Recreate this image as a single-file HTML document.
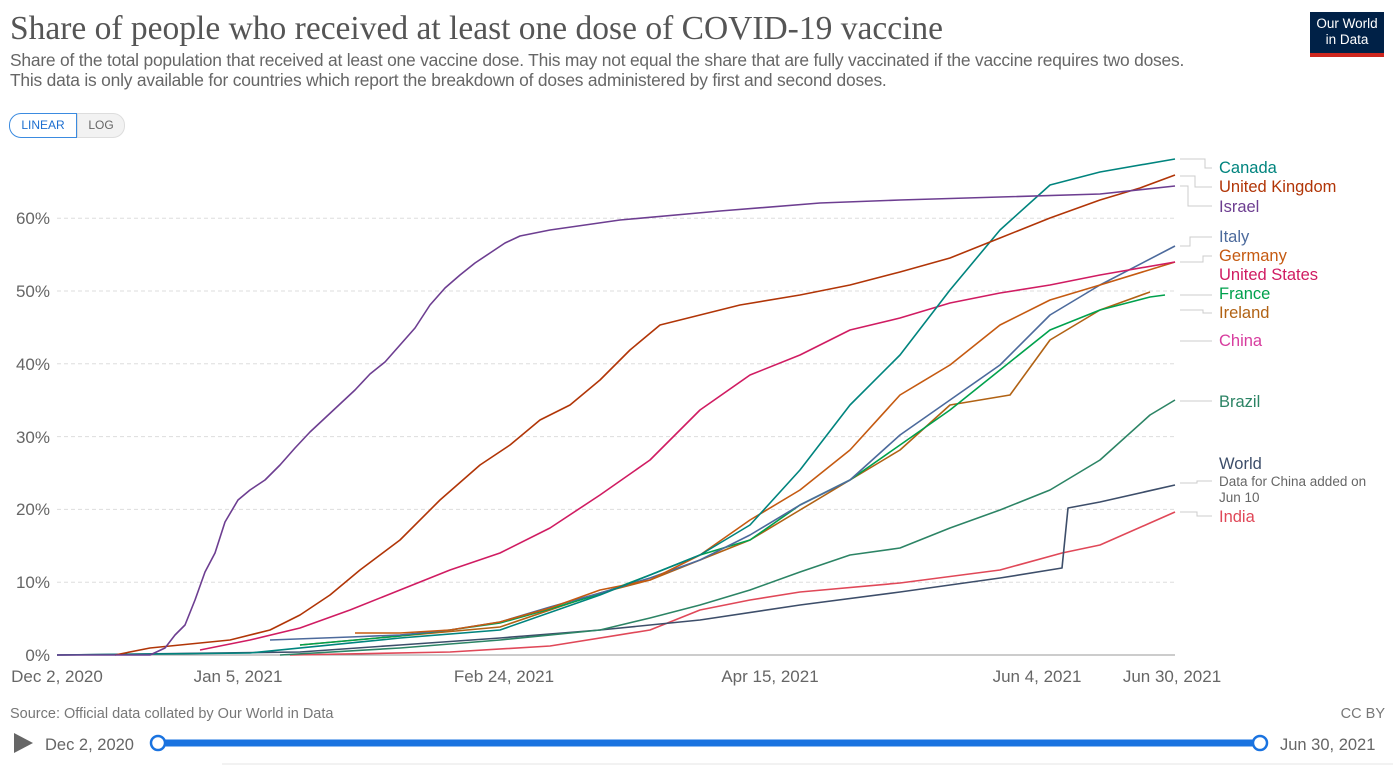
<!DOCTYPE html>
<html><head><meta charset="utf-8"><style>
body{margin:0;width:1393px;height:769px;background:#fff;font-family:"Liberation Sans",sans-serif;overflow:hidden;position:relative}
.t{position:absolute;white-space:nowrap}
</style></head><body>
<div class="t" style="left:10px;top:10px;font-family:'Liberation Serif',serif;font-size:33.5px;color:#555">Share of people who received at least one dose of COVID-19 vaccine</div>
<div class="t" style="left:10px;top:50px;font-size:17.4px;color:#666;line-height:20px;letter-spacing:-0.2px">Share of the total population that received at least one vaccine dose. This may not equal the share that are fully vaccinated if the vaccine requires two doses.<br>This data is only available for countries which report the breakdown of doses administered by first and second doses.</div>
<div class="t" style="left:1310px;top:12px;width:74px;height:45px;background:#002147;color:#fff;font-size:13.5px;text-align:center;line-height:16px;padding-top:4px;box-sizing:border-box;border-bottom:4px solid #ce261e">Our World<br>in Data</div>
<div class="t" style="left:9px;top:113px;width:66px;height:23px;border:1px solid #3b8be0;border-radius:12px 0 0 12px;color:#1d6fd0;font-size:12px;line-height:23px;text-align:center;background:#fff">LINEAR</div>
<div class="t" style="left:77px;top:113px;width:46px;height:23px;border:1px solid #ddd;border-radius:0 12px 12px 0;color:#666;font-size:12px;line-height:23px;text-align:center;background:#f2f2f2">LOG</div>
<svg width="1393" height="769" style="position:absolute;left:0;top:0">
<g stroke="#ddd" stroke-dasharray="4,3" stroke-width="1">
<line x1="57" x2="1175" y1="218.2" y2="218.2"/><line x1="57" x2="1175" y1="291" y2="291"/><line x1="57" x2="1175" y1="363.8" y2="363.8"/><line x1="57" x2="1175" y1="436.6" y2="436.6"/><line x1="57" x2="1175" y1="509.4" y2="509.4"/><line x1="57" x2="1175" y1="582.2" y2="582.2"/>
</g>
<line x1="57" x2="1175" y1="655" y2="655" stroke="#999"/>
<g font-size="17" fill="#666" text-anchor="end">
<text x="50" y="224">60%</text><text x="50" y="297">50%</text><text x="50" y="370">40%</text><text x="50" y="443">30%</text><text x="50" y="515">20%</text><text x="50" y="588">10%</text><text x="50" y="661">0%</text>
</g>
<g font-size="17" fill="#666" text-anchor="middle">
<text x="57" y="682">Dec 2, 2020</text><text x="238" y="682">Jan 5, 2021</text><text x="504" y="682">Feb 24, 2021</text><text x="770" y="682">Apr 15, 2021</text><text x="1037" y="682">Jun 4, 2021</text><text x="1172" y="682">Jun 30, 2021</text>
</g>
<g fill="none" stroke-width="1.6" stroke-linejoin="round">
<polyline stroke="#e04858" points="290,655 450,652 550,646 650,630 700,610 750,600 800,592 900,583 1000,570 1062,553 1100,545 1150,523 1175,512"/>
<polyline stroke="#3d4e6a" points="57,655 300,652 400,645 500,638 600,630 700,620 800,605 900,592 1000,578 1062,568 1068,508 1100,502 1175,485"/>
<polyline stroke="#2c8465" points="280,655 400,648 500,640 600,630 650,618 700,605 750,590 800,572 850,555 900,548 950,528 1000,510 1050,490 1100,460 1150,415 1175,400"/>
<polyline stroke="#b16214" points="300,645 400,636 500,627 550,610 600,593 650,580 700,560 750,540 800,510 850,480 900,450 950,405 1010,395 1050,340 1100,310 1150,292"/>
<polyline stroke="#00a14d" points="300,645 400,636 450,630 500,623 550,609 600,594 650,575 700,555 750,540 800,505 850,480 900,445 950,410 1000,370 1050,330 1100,310 1150,297 1165,295"/>
<polyline stroke="#4c6a9c" points="270,640 350,637 400,635 450,630 500,622 550,607 600,593 650,578 700,560 750,535 800,505 850,480 900,435 950,400 1000,365 1050,315 1100,285 1175,246"/>
<polyline stroke="#c55a11" points="355,633 400,633 450,630 500,622 550,608 600,590 650,580 700,555 750,520 800,490 850,450 900,395 950,365 1000,325 1050,300 1100,285 1175,262"/>
<polyline stroke="#d01c62" points="200,650 250,640 300,628 350,610 400,590 450,570 500,553 550,528 600,495 650,460 700,410 750,375 800,355 850,330 900,318 950,303 1000,293 1050,285 1100,275 1175,262"/>
<polyline stroke="#00847e" points="57,655 250,653 400,638 500,630 600,595 650,575 700,555 750,525 800,470 850,405 900,355 950,290 1000,230 1050,185 1100,172 1175,159"/>
<polyline stroke="#b13507" points="115,655 150,648 230,640 270,630 300,615 330,595 360,570 400,540 440,500 480,465 510,445 540,420 570,405 600,380 630,350 660,325 700,315 740,305 800,295 850,285 900,272 950,258 1000,238 1050,218 1100,200 1140,188 1175,175"/>
<polyline stroke="#6d3e91" points="57,655 150,655 165,648 175,635 185,625 195,600 205,572 215,553 225,522 238,500 250,490 265,480 280,465 295,448 310,432 325,418 340,404 355,390 370,374 385,362 400,345 415,328 430,305 445,288 460,275 475,263 490,253 505,243 520,236 550,230 620,220 720,211 820,203 900,200 1000,197 1100,194 1175,186"/>
</g>
<g fill="none" stroke="#ccc" stroke-width="1">
<polyline points="1180,159 1205,159 1205,168 1212,168"/>
<polyline points="1180,176 1195,176 1195,187 1212,187"/>
<polyline points="1180,186 1188,186 1188,206 1212,206"/>
<polyline points="1180,246 1190,246 1190,237 1212,237"/>
<polyline points="1180,262 1203,262 1203,256 1212,256 M1203,262 1203,275 1212,275"/>
<polyline points="1180,295 1212,295"/>
<polyline points="1180,310 1203,310 1203,313 1212,313"/>
<polyline points="1180,341 1212,341"/>
<polyline points="1180,401 1212,401"/>
<polyline points="1180,483 1197,483 1197,481 1212,481"/>
<polyline points="1180,512 1197,512 1197,516 1212,516"/>
</g>
<g font-size="16.5">
<text x="1219" y="173" fill="#00847e">Canada</text>
<text x="1219" y="192" fill="#b13507">United Kingdom</text>
<text x="1219" y="212" fill="#6d3e91">Israel</text>
<text x="1219" y="242" fill="#4c6a9c">Italy</text>
<text x="1219" y="261" fill="#c55a11">Germany</text>
<text x="1219" y="280" fill="#d01c62">United States</text>
<text x="1219" y="299" fill="#00a14d">France</text>
<text x="1219" y="318" fill="#b16214">Ireland</text>
<text x="1219" y="346" fill="#d73c9e">China</text>
<text x="1219" y="407" fill="#2c8465">Brazil</text>
<text x="1219" y="469" fill="#3d4e6a">World</text>
<text x="1219" y="486" fill="#666" font-size="13.5">Data for China added on</text>
<text x="1219" y="502" fill="#666" font-size="13.5">Jun 10</text>
<text x="1219" y="522" fill="#e04858">India</text>
</g>
<text x="10" y="718" font-size="14.5" fill="#777">Source: Official data collated by Our World in Data</text>
<text x="1385" y="718" font-size="14.5" fill="#777" text-anchor="end">CC BY</text>
<polygon points="14,733 14,753 33,743" fill="#666"/>
<text x="45" y="750" font-size="16.5" fill="#666">Dec 2, 2020</text>
<line x1="158" x2="1260" y1="743" y2="743" stroke="#1a73e0" stroke-width="7"/>
<circle cx="158" cy="743" r="7" fill="#fff" stroke="#1a73e0" stroke-width="2.5"/>
<circle cx="1260" cy="743" r="7" fill="#fff" stroke="#1a73e0" stroke-width="2.5"/>
<text x="1280" y="750" font-size="16.5" fill="#666">Jun 30, 2021</text>
<line x1="222" x2="1393" y1="764" y2="764" stroke="#e6e6e6"/>
</svg>
</body></html>
